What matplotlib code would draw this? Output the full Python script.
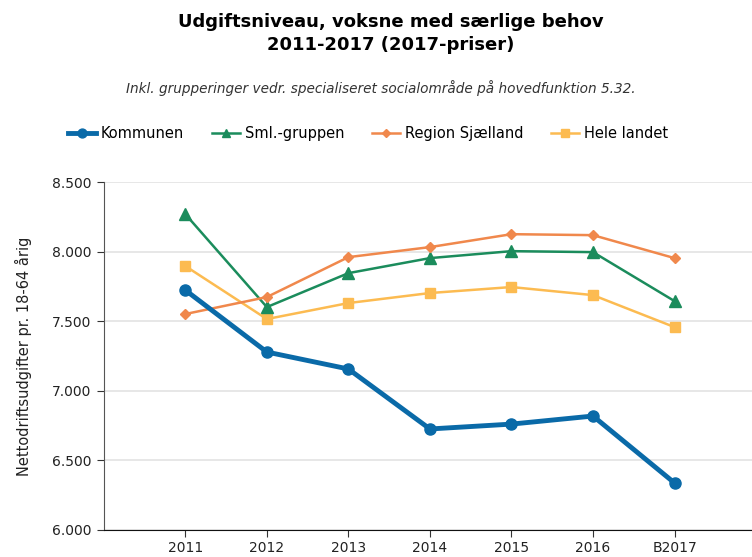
import matplotlib
matplotlib.use("Agg")
import matplotlib.pyplot as plt
from matplotlib.ticker import FuncFormatter

# data
years = ["2011", "2012", "2013", "2014", "2015", "2016", "B2017"]
kommunen = [7724, 7279, 7157, 6726, 6761, 6819, 6338]
sml_gruppen = [8270, 7602, 7846, 7954, 8004, 7997, 7645]
region_sjaelland = [7552, 7674, 7961, 8033, 8126, 8119, 7954]
hele_landet = [7897, 7516, 7631, 7703, 7746, 7688, 7458]

plt.rcParams["font.family"] = ["DejaVu Sans"]

fig = plt.figure(figsize=(7.52, 5.57), dpi=100)
ax = fig.add_axes([0.138, 0.0485, 0.862, 0.6245])

x = list(range(len(years)))
ax.plot(x, kommunen, color="#0a6aa8", lw=3.5, marker="o", ms=8, label="Kommunen", zorder=5)
ax.plot(x, sml_gruppen, color="#1b8c5c", lw=1.8, marker="^", ms=8, label="Sml.-gruppen", zorder=4)
ax.plot(x, region_sjaelland, color="#f0884c", lw=1.8, marker="D", ms=5.5, label="Region Sjælland", zorder=4)
ax.plot(x, hele_landet, color="#fcbb51", lw=1.8, marker="s", ms=7, label="Hele landet", zorder=3)

ax.set_xlim(-1, 6.95)
ax.set_ylim(6000, 8500)
ax.set_xticks(x)
ax.set_xticklabels(years)
ax.set_yticks([6000, 6500, 7000, 7500, 8000, 8500])
ax.yaxis.set_major_formatter(FuncFormatter(lambda v, p: f"{int(v):,}".replace(",", ".")))
ax.tick_params(axis="both", labelsize=10, length=5, color="#333333", labelcolor="#222222")
ax.tick_params(axis="y", pad=4)
ax.tick_params(axis="x", pad=3)
ax.grid(axis="y", color="#e3e3e3", lw=1.2)
ax.set_axisbelow(True)
for s in ["top", "right"]:
    ax.spines[s].set_visible(False)
ax.spines["left"].set_color("#555555")
ax.spines["bottom"].set_color("#111111")
ax.set_ylabel("Nettodriftsudgifter pr. 18-64 årig", fontsize=10.5, color="#222222", labelpad=14)

fig.text(0.52, 0.94, "Udgiftsniveau, voksne med særlige behov\n2011-2017 (2017-priser)",
         ha="center", va="center", fontsize=13, fontweight="bold", linespacing=1.3)
fig.text(0.506, 0.842, "Inkl. grupperinger vedr. specialiseret socialområde på hovedfunktion 5.32.",
         ha="center", va="center", fontsize=9.8, style="italic", color="#333333")

ax.legend(loc="center left", bbox_to_anchor=(0.073, 0.76), bbox_transform=fig.transFigure,
          ncol=4, frameon=False, fontsize=10.5, handlelength=1.9, columnspacing=1.9,
          handletextpad=0.35, markerscale=0.8)

fig.savefig("out.png", dpi=100)
